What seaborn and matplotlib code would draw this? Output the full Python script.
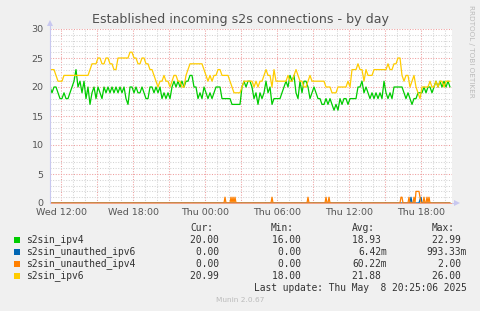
import numpy as np
import pandas as pd
import matplotlib
matplotlib.use("Agg")
import matplotlib.pyplot as plt
import seaborn as sns
from matplotlib.patches import Rectangle
from matplotlib.ticker import MultipleLocator, FuncFormatter
from matplotlib.lines import Line2D

# ---------------- data ----------------
title = "Established incoming s2s connections - by day"
series_names = ["s2sin_ipv4", "s2sin_unauthed_ipv6", "s2sin_unauthed_ipv4", "s2sin_ipv6"]
series_colors = ["#00CC00", "#0066B3", "#FF8000", "#FFCC00"]
cur_vals = ["20.00", "0.00", "0.00", "20.99"]
min_vals = ["16.00", "0.00", "0.00", "18.00"]
avg_vals = ["18.93", "6.42m", "60.22m", "21.88"]
max_vals = ["22.99", "993.33m", "2.00", "26.00"]
last_update = "Last update: Thu May  8 20:25:06 2025"
footer = "Munin 2.0.67"
side_text = "RRDTOOL / TOBI OETIKER"
x_tick_hours = [12, 18, 24, 30, 36, 42]
x_tick_labels = ["Wed 12:00", "Wed 18:00", "Thu 00:00", "Thu 06:00", "Thu 12:00", "Thu 18:00"]
y_ticks = [0, 5, 10, 15, 20, 25, 30]

start_hour = 11 + 5 / 60      # Wed 11:05, hours since Wed 00:00
span_hours = 402 / 12

# 10-minute samples
ipv4 = [
    20, 19, 20, 20, 19, 18, 18, 19, 18, 18,
    19, 20, 21, 23, 20, 21, 19, 21, 18, 20,
    17, 19, 20, 18, 20, 19, 18, 20, 19, 20,
    19, 20, 19, 20, 19, 20, 19, 20, 18, 17,
    20, 20, 19, 20, 19, 19, 20, 19, 18, 18,
    20, 20, 19, 20, 19, 20, 18, 19, 18, 19,
    18, 20, 21, 20, 21, 20, 21, 20, 21, 21,
    22, 22, 20, 20, 18, 19, 18, 20, 19, 18,
    19, 18, 19, 20, 20, 20, 18, 18, 18, 18,
    18, 17, 17, 17, 17, 17, 20, 21, 20, 21,
    21, 20, 18, 19, 17, 19, 18, 19, 21, 19,
    20, 17, 18, 18, 18, 18, 19, 20, 21, 20,
    22, 21, 22, 19, 18, 21, 19, 21, 21, 20,
    18, 19, 20, 19, 18, 18, 17, 17, 18, 17,
    18, 17, 16, 17, 16, 18, 17, 18, 18, 17,
    18, 18, 18, 18, 20, 20, 21, 19, 20, 19,
    18, 19, 18, 19, 18, 19, 18, 21, 19, 18,
    19, 18, 20, 20, 20, 20, 20, 19, 18, 19,
    18, 17, 18, 18, 19, 19, 19, 20, 19, 20,
    20, 19, 20, 21, 20, 21, 20, 21, 20, 21,
    20,
]
ipv6 = [
    23, 23, 23, 22, 21, 21, 21, 22, 22, 22,
    22, 22, 22, 22, 22, 22, 22, 22, 22, 22,
    23, 24, 24, 24, 25, 25, 24, 24, 25, 25,
    24, 24, 23, 23, 25, 25, 25, 25, 25, 25,
    26, 26, 25, 25, 24, 24, 25, 25, 24, 24,
    23, 23, 22, 21, 20, 21, 21, 22, 21, 21,
    20, 21, 22, 22, 21, 21, 20, 20, 22, 23,
    24, 24, 24, 24, 24, 24, 24, 23, 22, 21,
    22, 21, 22, 22, 23, 23, 22, 22, 22, 22,
    21, 20, 19, 19, 19, 19, 20, 21, 21, 21,
    21, 21, 20, 21, 20, 21, 21, 22, 23, 22,
    22, 20, 23, 21, 21, 21, 21, 21, 21, 22,
    21, 21, 22, 23, 22, 21, 21, 20, 20, 21,
    22, 21, 21, 21, 21, 21, 21, 21, 20, 20,
    20, 19, 19, 19, 20, 20, 20, 20, 20, 21,
    20, 23, 23, 23, 24, 23, 23, 21, 23, 22,
    22, 22, 23, 23, 23, 23, 23, 23, 23, 24,
    23, 23, 24, 24, 25, 25, 22, 21, 22, 22,
    20, 21, 22, 20, 19, 18, 20, 20, 20, 20,
    21, 20, 20, 21, 20, 21, 21, 20, 21, 21,
    21,
]
# sparse spikes on a 5-minute grid (hours since Wed 00:00), zero elsewhere
unauth_v4_times = [25.667, 26.167, 26.333, 26.5, 29.583, 32.583, 34.083, 34.333,
                   40.333, 40.417, 41.0, 41.417, 41.583, 41.667, 41.75, 41.833,
                   41.917, 42.25, 42.5, 42.667]
unauth_v4_vals = [1, 1, 1, 1, 1, 1, 1, 1,
                  1, 1, 1, 1, 2, 2, 2, 2,
                  1, 1, 1, 1]
unauth_v6_times = [41.167, 41.917, 42.0]
unauth_v6_vals = [0.99, 0.6, 0.99]

# ---------------- build long table ----------------
t10 = start_hour + np.arange(len(ipv4)) / 6
n5 = 401
t5 = start_hour + np.arange(n5) / 12
v4u = np.zeros(n5)
v4u[np.rint((np.array(unauth_v4_times) - start_hour) * 12).astype(int)] = unauth_v4_vals
v6u = np.zeros(n5)
v6u[np.rint((np.array(unauth_v6_times) - start_hour) * 12).astype(int)] = unauth_v6_vals

df = pd.concat([
    pd.DataFrame({"t": t10, "v": ipv4, "series": series_names[0]}),
    pd.DataFrame({"t": t5, "v": v6u, "series": series_names[1]}),
    pd.DataFrame({"t": t5, "v": v4u, "series": series_names[2]}),
    pd.DataFrame({"t": t10, "v": ipv6, "series": series_names[3]}),
], ignore_index=True)

# ---------------- figure ----------------
sns.set_style("white")
plt.rcParams["font.family"] = ["DejaVu Sans"]

W, H = 481, 311
fig = plt.figure(figsize=(W / 100, H / 100), dpi=100)
fig.patch.set_facecolor("#F0F0F0")

def fx(px):
    return px / W

def fy(py):
    return 1 - py / H

ax = fig.add_axes([fx(50), fy(203), fx(452) - fx(50), fy(29) - fy(203)])
ax.set_facecolor("white")

sns.lineplot(data=df, x="t", y="v", hue="series", hue_order=series_names,
             palette=series_colors, estimator=None, linewidth=0.9,
             legend=False, ax=ax)

ax.set_xlim(start_hour, start_hour + span_hours)
ax.set_ylim(0, 30)
ax.set_xlabel("")
ax.set_ylabel("")

label_map = dict(zip(x_tick_hours, x_tick_labels))
ax.xaxis.set_major_locator(MultipleLocator(3))
ax.xaxis.set_minor_locator(MultipleLocator(1))
ax.xaxis.set_major_formatter(FuncFormatter(lambda v, p: label_map.get(int(round(v)), "")))
ax.set_yticks(y_ticks)
ax.yaxis.set_minor_locator(MultipleLocator(1))

ax.set_axisbelow(True)
ax.grid(which="minor", color="#D4D4D4", linestyle=(0, (1, 1.5)), linewidth=0.75)
ax.grid(which="major", color="#EE9E9E", linestyle=(0, (1, 1.5)), linewidth=0.75)
ax.tick_params(which="both", length=0, labelsize=6.8, colors="#555555")
ax.tick_params(axis="y", pad=4.5)
ax.tick_params(axis="x", pad=3.5)

for s in ["top", "right"]:
    ax.spines[s].set_visible(False)
ax.spines["bottom"].set_color("#F4A080")
ax.spines["bottom"].set_linewidth(0.7)
ax.spines["bottom"].set_zorder(1)
ax.spines["left"].set_color("#C8C8F0")
ax.spines["left"].set_linewidth(0.8)

# axis arrows
fig.add_artist(Line2D([fx(50), fx(50)], [fy(29), fy(24)], color="#C8C8F0", lw=0.8))
fig.add_artist(Line2D([fx(50)], [fy(23)], marker="^", markersize=4, color="#C8C8F0",
                      markeredgewidth=0, transform=fig.transFigure))
fig.add_artist(Line2D([fx(452), fx(455)], [fy(203), fy(203)], color="#C8C8F0", lw=0.8))
fig.add_artist(Line2D([fx(457)], [fy(203)], marker=">", markersize=4, color="#C8C8F0",
                      markeredgewidth=0, transform=fig.transFigure))

# title and side text
fig.text(fx(240.5), fy(19.5), title, ha="center", va="center", fontsize=9.1, color="#505050")
fig.text(fx(471), fy(5), side_text, rotation=270, ha="center", va="top",
         fontsize=5.2, color="#BBBBBB")

# legend
mono = "DejaVu Sans Mono"
lfs = 6.9
tcol = "#333333"
fig.text(fx(190), fy(228), "Cur:", ha="left", va="center", family=mono, fontsize=lfs, color=tcol)
fig.text(fx(271), fy(228), "Min:", ha="left", va="center", family=mono, fontsize=lfs, color=tcol)
fig.text(fx(352), fy(228), "Avg:", ha="left", va="center", family=mono, fontsize=lfs, color=tcol)
fig.text(fx(432), fy(228), "Max:", ha="left", va="center", family=mono, fontsize=lfs, color=tcol)

def fmt(s):
    return s if s.endswith("m") else s + " "

row_y = [240, 252, 264, 276]
for k, name in enumerate(series_names):
    y = row_y[k]
    fig.add_artist(Rectangle((fx(14), fy(y + 3)), fx(6), 6 / H, transform=fig.transFigure,
                             facecolor=series_colors[k], edgecolor="none"))
    fig.text(fx(26.5), fy(y), name, ha="left", va="center", family=mono, fontsize=lfs, color=tcol)
    fig.text(fx(225), fy(y), fmt(cur_vals[k]), ha="right", va="center", family=mono, fontsize=lfs, color=tcol)
    fig.text(fx(307), fy(y), fmt(min_vals[k]), ha="right", va="center", family=mono, fontsize=lfs, color=tcol)
    fig.text(fx(387), fy(y), fmt(avg_vals[k]), ha="right", va="center", family=mono, fontsize=lfs, color=tcol)
    fig.text(fx(467), fy(y), fmt(max_vals[k]), ha="right", va="center", family=mono, fontsize=lfs, color=tcol)

fig.text(fx(467), fy(288), last_update, ha="right", va="center", family=mono, fontsize=lfs, color=tcol)
fig.text(fx(240), fy(300), footer, ha="center", va="center", fontsize=5.3, color="#BBBBBB")

fig.savefig("out.png", dpi=100, facecolor=fig.get_facecolor())
